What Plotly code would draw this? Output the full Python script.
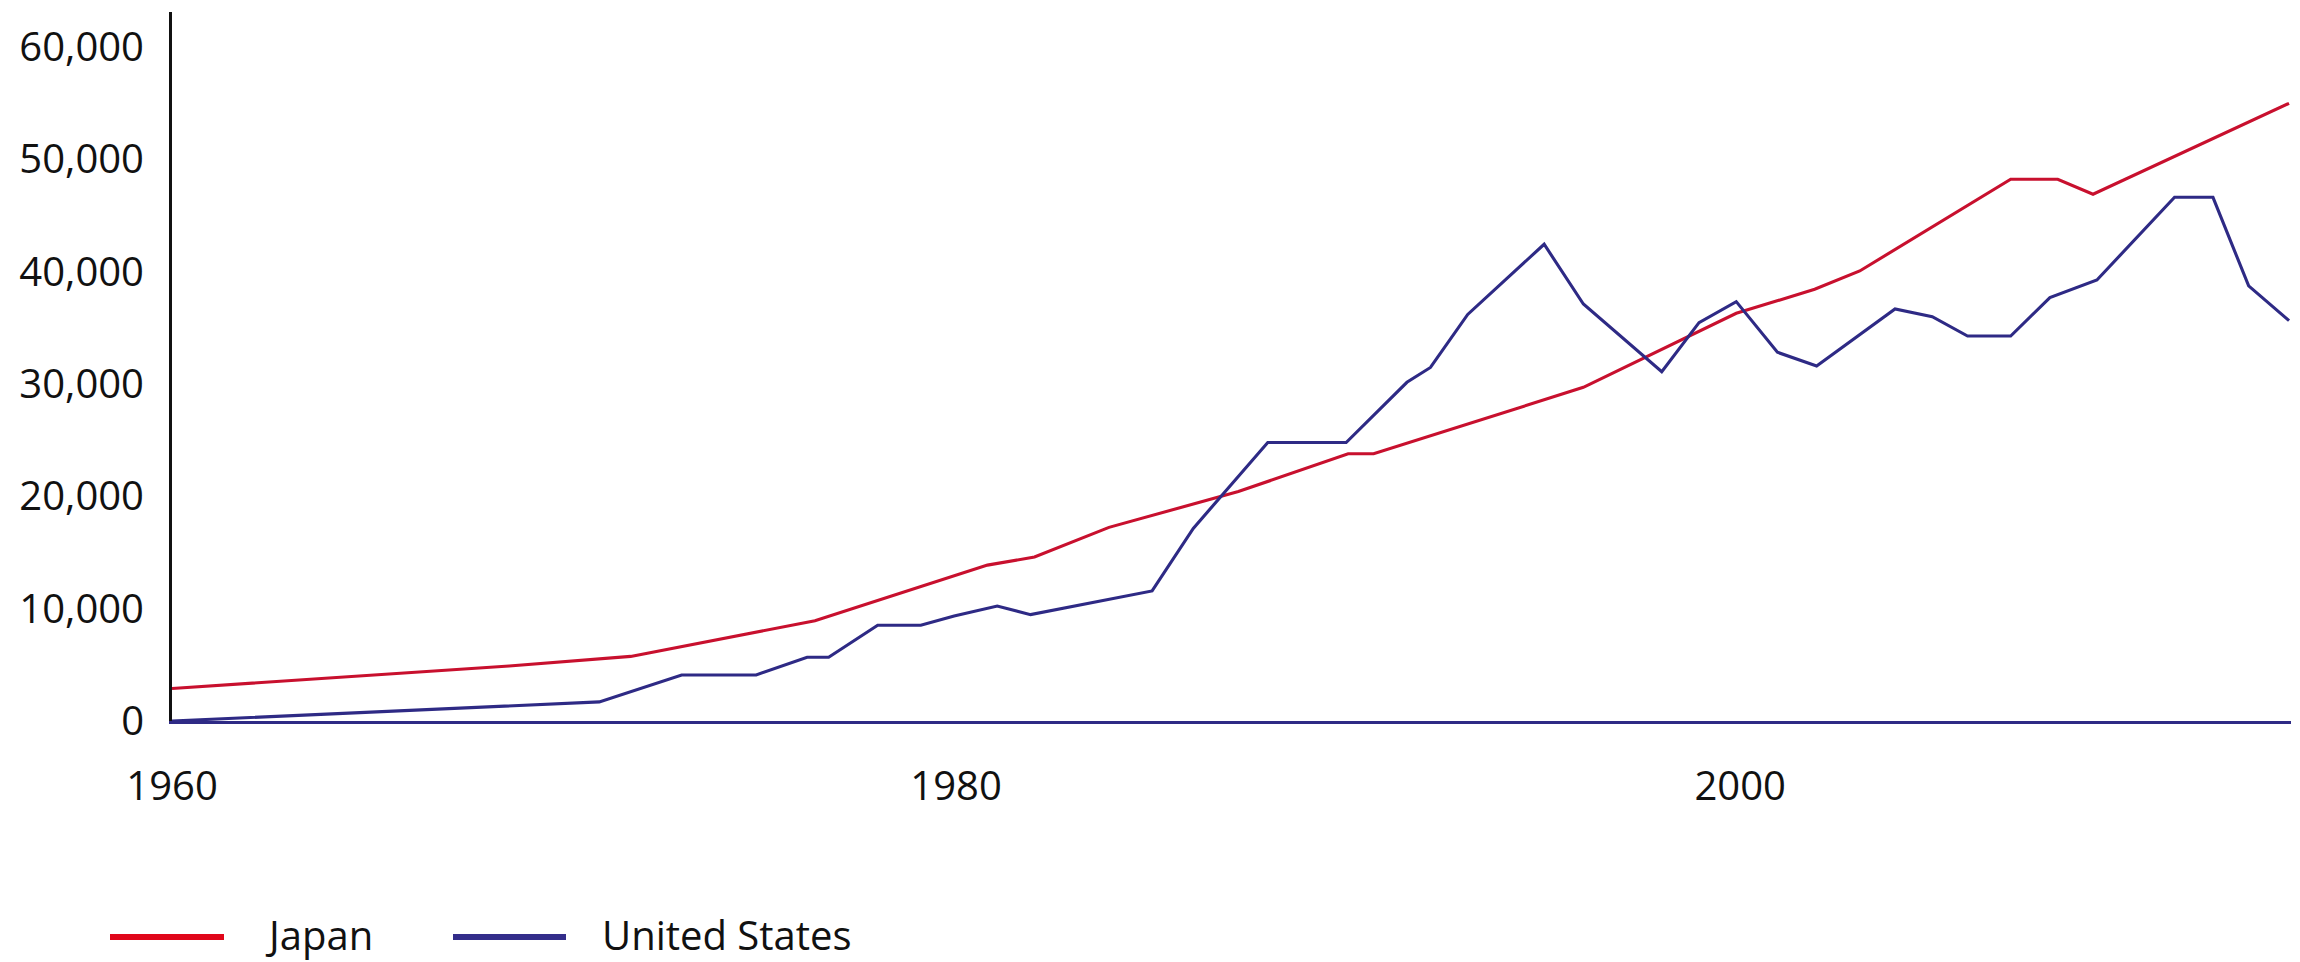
import plotly.graph_objects as go

# ---------------- data ----------------
japan_years = [1960, 1968.6, 1971.7, 1976.4, 1980.8, 1982.0, 1983.9, 1987.2, 1990.0, 1990.65,
               1996.0, 1999.9, 2001.9, 2003.05, 2006.9, 2008.1, 2009.0, 2014.0]
japan_vals = [2900, 4900, 5750, 8930, 13880, 14600, 17240, 20430, 23790, 23790,
              29710, 36300, 38440, 40070, 48240, 48240, 46900, 55000]

us_years = [1960, 1970.9, 1973.0, 1974.9, 1976.2, 1976.75, 1978.0, 1979.1, 1979.95, 1981.05,
            1981.9, 1985.0, 1986.05, 1987.95, 1989.95, 1991.5, 1992.1, 1993.05, 1995.0, 1996.0,
            1998.0, 1998.95, 1999.9, 2000.95, 2001.95, 2003.95, 2004.9, 2005.8, 2006.9, 2007.9,
            2009.1, 2011.08, 2012.06, 2012.97, 2014.0]
us_vals = [0, 1700, 4100, 4100, 5670, 5670, 8520, 8520, 9350, 10240,
           9470, 11580, 17150, 24800, 24800, 30160, 31480, 36200, 42450, 37130,
           31100, 35470, 37340, 32830, 31610, 36690, 36000, 34280, 34280, 37700,
           39270, 46630, 46630, 38740, 35650]

series_names = ["Japan", "United States"]
x_ticks = [1960, 1980, 2000]
y_ticks = [0, 10000, 20000, 30000, 40000, 50000, 60000]

# ---------------- style ----------------
RED = "#c8102e"
BLUE = "#2e2a85"
RED_SW = "#e0061a"
BLUE_SW = "#332d8a"
FONT = "Open Sans"
FS = 40

W, H = 2300, 962
L, R, T, B = 172, 9, 12, 241
pw = W - L - R
ph = H - T - B

fig = go.Figure()
fig.add_trace(go.Scatter(x=japan_years, y=japan_vals, mode="lines", name=series_names[0],
                         line=dict(color=RED, width=3.1), showlegend=False))
fig.add_trace(go.Scatter(x=us_years, y=us_vals, mode="lines", name=series_names[1],
                         line=dict(color=BLUE, width=3.1), showlegend=False))

# custom legend (long swatches like the reference)
def px_x(p):
    return (p - L) / pw

def px_y(p):
    return (H - B - p) / ph

leg_y = px_y(934)
legend_items = [
    (series_names[0], RED_SW, 110, 224, 264),
    (series_names[1], BLUE_SW, 453, 566, 601),
]
for name, col, x0, x1, tx in legend_items:
    fig.add_shape(type="line", xref="paper", yref="paper",
                  x0=px_x(x0), x1=px_x(x1), y0=px_y(937), y1=px_y(937),
                  line=dict(color=col, width=6))
    fig.add_annotation(xref="paper", yref="paper", x=px_x(tx), y=leg_y,
                       text=name, showarrow=False, xanchor="left", yanchor="middle",
                       borderpad=0,
                       font=dict(family=FONT, size=FS, color="#111111"))

fig.update_layout(
    width=W, height=H, autosize=False,
    margin=dict(l=L, r=R, t=T, b=B),
    paper_bgcolor="white", plot_bgcolor="white",
    font=dict(family=FONT, size=FS, color="#111111"),
    showlegend=False,
    xaxis=dict(range=[1960, 2014.05], tickvals=x_ticks, ticktext=[str(v) for v in x_ticks],
               showgrid=False, zeroline=False, showline=True, linecolor=BLUE, linewidth=3,
               ticks="", ticklabelstandoff=28, automargin=False),
    yaxis=dict(range=[0, 63130], tickvals=y_ticks, tickformat=",",
               showgrid=False, zeroline=False, showline=True, linecolor="#111111", linewidth=3,
               ticks="", ticklabelstandoff=17, automargin=False),
)

fig.write_html("out.html", config={"displayModeBar": False},
               post_script="document.body.style.margin='0px';document.body.style.overflow='hidden';")
